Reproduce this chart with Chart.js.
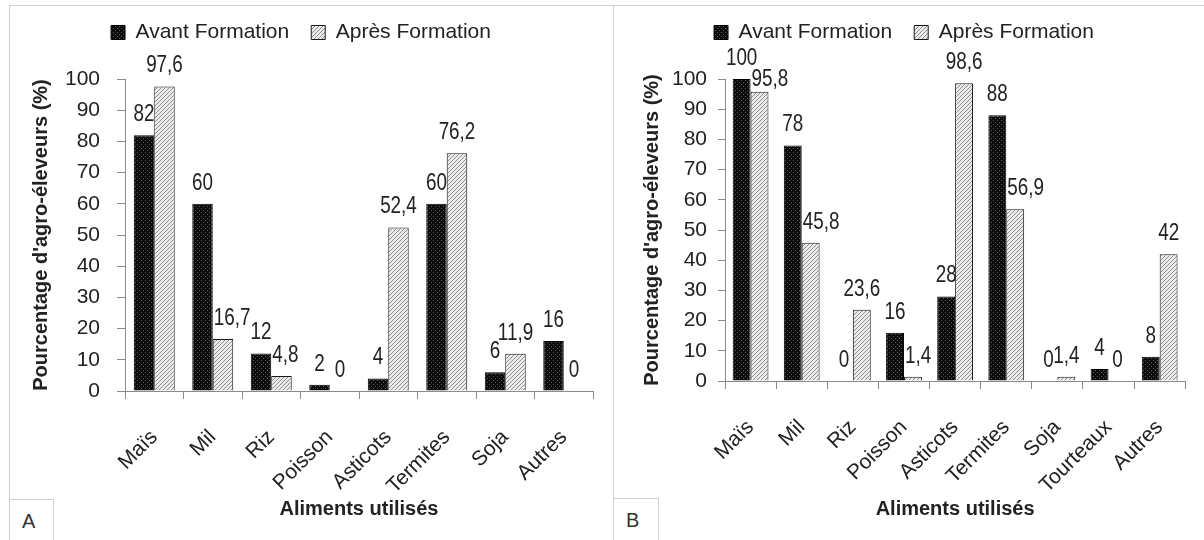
<!DOCTYPE html>
<html>
<head>
<meta charset="utf-8">
<script src="https://cdn.jsdelivr.net/npm/chart.js@4.4.1/dist/chart.umd.min.js"></script>
<style>
  html, body { margin: 0; padding: 0; background: #fff; }
  body { width: 1204px; height: 540px; position: relative; overflow: hidden; }
  .frame { position: absolute; border: 1px solid #cfcfcf; box-sizing: border-box; }
  .tag { position: absolute; border: 1px solid #cfcfcf; box-sizing: border-box; background: #fff;
         font: 20px "Liberation Sans", Arial, sans-serif; color: #333; padding: 10px 0 0 12px; }
  canvas { position: absolute; top: 0; }
</style>
</head>
<body>
<div class="frame" style="left:9px;top:5px;width:605px;height:560px"></div>
<div class="frame" style="left:613px;top:5px;width:600px;height:560px"></div>
<div class="tag" style="left:9px;top:499px;width:45px;height:50px">A</div>
<div class="tag" style="left:613px;top:498px;width:46px;height:50px">B</div>
<div style="position:absolute;left:9px;top:0;width:604px;height:540px"><canvas id="chart-a"></canvas></div>
<div style="position:absolute;left:613px;top:0;width:591px;height:540px"><canvas id="chart-b"></canvas></div>
<script>
// panel A
const categoriesA = ['Maïs', 'Mil', 'Riz', 'Poisson', 'Asticots', 'Termites', 'Soja', 'Autres'];
const avantA = [82, 60, 12, 2, 4, 60, 6, 16];
const apresA = [97.6, 16.7, 4.8, 0, 52.4, 76.2, 11.9, 0];

// panel B
const categoriesB = ['Maïs', 'Mil', 'Riz', 'Poisson', 'Asticots', 'Termites', 'Soja', 'Tourteaux', 'Autres'];
const avantB = [100, 78, 0, 16, 28, 88, 0, 4, 8];
const apresB = [95.8, 45.8, 23.6, 1.4, 98.6, 56.9, 1.4, 0, 42];

const yTicks = [0, 10, 20, 30, 40, 50, 60, 70, 80, 90, 100];
const seriesNames = ['Avant Formation', 'Après Formation'];

const FONT = '"Liberation Sans", Arial, sans-serif';
const TXT = '#222';
const AXIS = '#8a8a8a';

function makePattern(kind) {
  const c = document.createElement('canvas');
  c.width = 4; c.height = 4;
  const g = c.getContext('2d');
  if (kind === 'dark') {
    g.fillStyle = '#0c0c0c'; g.fillRect(0, 0, 4, 4);
    g.fillStyle = '#5a5a5a';
    g.fillRect(0, 0, 1, 1); g.fillRect(2, 2, 1, 1);
  } else {
    g.fillStyle = '#ececec'; g.fillRect(0, 0, 4, 4);
    g.fillStyle = '#8c8c8c';
    g.fillRect(0, 3, 1, 1); g.fillRect(1, 2, 1, 1); g.fillRect(2, 1, 1, 1); g.fillRect(3, 0, 1, 1);
  }
  return g.createPattern(c, 'repeat');
}

const fmt = v => String(v).replace('.', ',');
const SQUEEZE = 0.82;
const GAP = 9, TEXT_H = 17;

// value above each bar, squeezed horizontally to look like a narrow face;
// a label sitting next to a taller bar is nudged right so it clears it,
// and dropped onto its bar if it would still hit the neighbour's label
const valueLabels = {
  id: 'valueLabels',
  afterDatasetsDraw(chart) {
    const ctx = chart.ctx;
    const metas = chart.data.datasets.map((ds, i) => chart.getDatasetMeta(i));
    chart.data.datasets.forEach((ds, i) => {
      metas[i].data.forEach((bar, j) => {
        const text = fmt(ds.data[j]);
        ctx.save();
        ctx.font = '23px ' + FONT;
        let x = bar.x, y = bar.y - GAP;
        if (i > 0) {
          const prev = metas[i - 1].data[j];
          const w = ctx.measureText(text).width * SQUEEZE;
          const clear = prev.x + prev.width / 2 + 1;
          if (prev.y < bar.y && x - w / 2 < clear) {
            x = clear + w / 2;
            if (prev.y - GAP > y - TEXT_H) y = bar.y - 1;
          }
        }
        ctx.translate(x, y);
        ctx.scale(SQUEEZE, 1);
        ctx.fillStyle = TXT;
        ctx.textAlign = 'center';
        ctx.textBaseline = 'bottom';
        ctx.fillText(text, 0, 0);
        ctx.restore();
      });
    });
  }
};

// push the plot area down below the legend
const legendGap = {
  id: 'legendGap',
  beforeInit(chart) {
    const fit = chart.legend.fit;
    chart.legend.fit = function () {
      fit.call(this);
      this.height += 26;
    };
  }
};

function buildChart(id, labels, avant, apres, geo) {
  return new Chart(document.getElementById(id), {
    type: 'bar',
    data: {
      labels,
      datasets: [
        { label: seriesNames[0], data: avant, backgroundColor: makePattern('dark'), borderColor: '#000', borderWidth: 1,
          categoryPercentage: 0.7, barPercentage: 1 },
        { label: seriesNames[1], data: apres, backgroundColor: makePattern('light'), borderColor: '#1a1a1a', borderWidth: 1,
          categoryPercentage: 0.7, barPercentage: 1 },
      ]
    },
    options: {
      responsive: true, maintainAspectRatio: false, animation: false,
      layout: { padding: { left: 0, right: geo.right, top: 0, bottom: 0 } },
      plugins: {
        legend: {
          position: 'top',
          labels: { boxWidth: 14, boxHeight: 14, padding: 22, color: TXT, font: { family: FONT, size: 21 } }
        },
        tooltip: { enabled: false }
      },
      scales: {
        x: {
          grid: { drawOnChartArea: false, offset: true, tickLength: 8, color: AXIS },
          border: { color: AXIS },
          ticks: { minRotation: 45, maxRotation: 45, autoSkip: false, padding: geo.xPad, color: TXT, font: { family: FONT, size: 21 } },
          title: { display: true, text: 'Aliments utilisés', color: TXT, font: { family: FONT, size: 20, weight: 'bold' }, padding: { top: 0, bottom: 19 } },
          afterFit(s) { s.height = geo.xHeight; }
        },
        y: {
          min: 0, max: 100,
          afterBuildTicks(s) { s.ticks = yTicks.map(v => ({ value: v })); },
          grid: { drawOnChartArea: false, tickLength: geo.yTick, color: AXIS },
          border: { color: AXIS },
          ticks: { autoSkip: false, padding: geo.yPad, color: TXT, font: { family: FONT, size: 21 } },
          title: { display: true, text: "Pourcentage d'agro-éleveurs (%)", color: TXT, font: { family: FONT, size: 20, weight: 'bold' }, padding: { top: geo.titlePad, bottom: 0 } },
          afterFit(s) { s.width = geo.yWidth; }
        }
      }
    },
    plugins: [legendGap, valueLabels]
  });
}

buildChart('chart-a', categoriesA, avantA, apresA, { right: 20, xHeight: 149, yWidth: 116, yTick: 8, yPad: 17, titlePad: 20, xPad: 26 });
buildChart('chart-b', categoriesB, avantB, apresB, { right: 9, xHeight: 159, yWidth: 112, yTick: 7, yPad: 11, titlePad: 27, xPad: 26 });
</script>
</body>
</html>
